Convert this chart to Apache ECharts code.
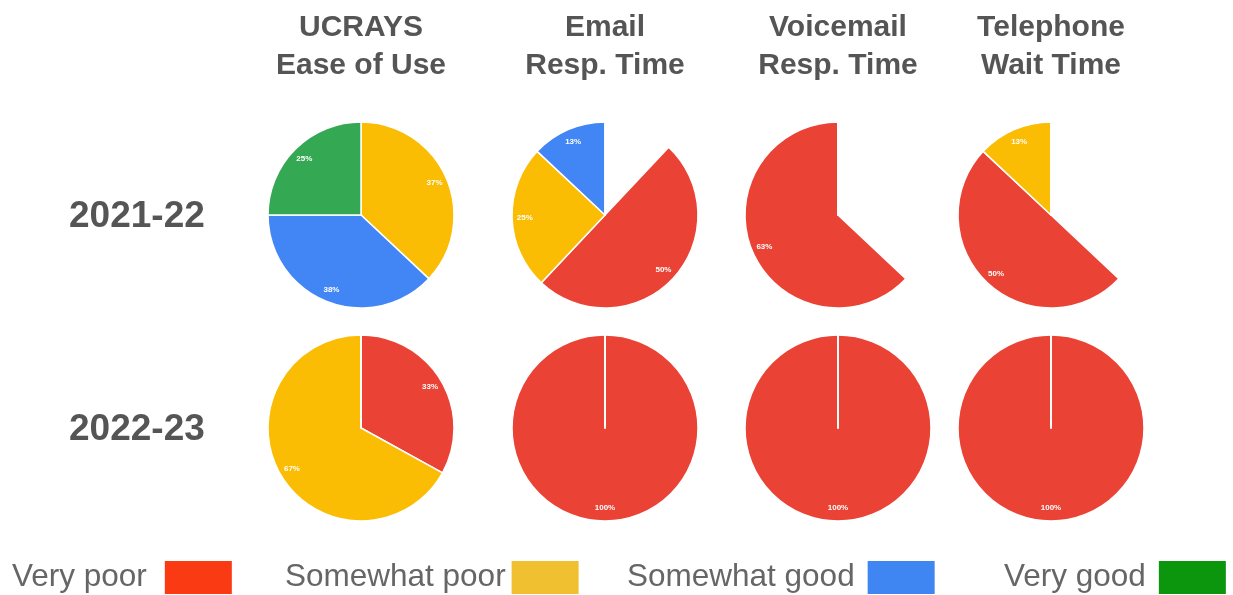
<!DOCTYPE html>
<html>
<head>
<meta charset="utf-8">
<script src="https://cdn.jsdelivr.net/npm/echarts@6/dist/echarts.min.js"></script>
<style>
  html, body { margin: 0; padding: 0; background: #ffffff; }
  #chart { width: 1233px; height: 595px; }
</style>
</head>
<body>
<div id="chart"></div>
<script>
// Column headings (one pie per measure) and row headings (survey year)
const measures = ['UCRAYS\nEase of Use', 'Email\nResp. Time', 'Voicemail\nResp. Time', 'Telephone\nWait Time'];
const years = ['2021-22', '2022-23'];
const ratings = ['Very poor', 'Somewhat poor', 'Somewhat good', 'Very good'];

// Share of responses (%) per rating, one entry per measure
const veryPoor2122     = [0, 50, 63, 50];
const somewhatPoor2122 = [37, 25, 0, 13];
const somewhatGood2122 = [38, 13, 0, 0];
const veryGood2122     = [25, 0, 0, 0];
const unrated2122      = [0, 12, 37, 37];

const veryPoor2223     = [33, 100, 100, 100];
const somewhatPoor2223 = [67, 0, 0, 0];
const somewhatGood2223 = [0, 0, 0, 0];
const veryGood2223     = [0, 0, 0, 0];
const unrated2223      = [0, 0, 0, 0];

const sliceColors  = ['#ea4335', '#fbbc04', '#4285f4', '#34a853'];
const legendColors = ['#fa3a12', '#f0c030', '#3f86f2', '#0b960e'];

const yearData = [
  { unrated: unrated2122, byRating: [veryPoor2122, somewhatPoor2122, somewhatGood2122, veryGood2122] },
  { unrated: unrated2223, byRating: [veryPoor2223, somewhatPoor2223, somewhatGood2223, veryGood2223] }
];

// Layout
const colX = [361, 605, 838, 1051];
const headX = [356, 600, 833, 1046];
const rowY = [215, 428];
const R = 93;

function sliceItems(y, m, withLabels) {
  const d = yearData[y];
  const items = [{
    name: 'Unrated',
    value: d.unrated[m],
    itemStyle: { color: withLabels ? 'rgba(0,0,0,0)' : '#ffffff' },
    label: { show: false }
  }];
  ratings.forEach((r, i) => {
    const v = d.byRating[i][m];
    items.push({
      name: r,
      value: v,
      itemStyle: { color: withLabels ? 'rgba(0,0,0,0)' : sliceColors[i] },
      label: { show: withLabels && v > 0 }
    });
  });
  return items;
}

const series = [];
years.forEach((yr, y) => {
  measures.forEach((ms, m) => {
    // the pie itself
    series.push({
      type: 'pie',
      center: [colX[m], rowY[y]],
      radius: [0, R],
      startAngle: 90,
      clockwise: true,
      silent: true,
      avoidLabelOverlap: false,
      label: { show: false },
      labelLine: { show: false },
      itemStyle: { borderColor: '#ffffff', borderWidth: 1.5 },
      emphasis: { disabled: true },
      data: sliceItems(y, m, false)
    });
    // percentage labels, placed in an outer ring of the same pie
    series.push({
      type: 'pie',
      center: [colX[m], rowY[y]],
      radius: [R * 0.66, R],
      startAngle: 90,
      clockwise: true,
      silent: true,
      avoidLabelOverlap: false,
      label: {
        position: 'inside',
        formatter: '{c}%',
        color: '#ffffff',
        fontSize: 8,
        fontWeight: 'bold',
        fontFamily: 'Liberation Sans'
      },
      labelLine: { show: false },
      itemStyle: { borderWidth: 0 },
      emphasis: { disabled: true },
      data: sliceItems(y, m, true)
    });
  });
});

const titles = [];
measures.forEach((ms, m) => {
  titles.push({
    text: ms,
    left: headX[m],
    top: 4,
    textAlign: 'center',
    textStyle: {
      fontFamily: 'Liberation Sans',
      fontWeight: 'bold',
      fontSize: 30,
      lineHeight: 38,
      color: '#555555'
    }
  });
});
years.forEach((yr, y) => {
  titles.push({
    text: yr,
    left: 64,
    top: rowY[y] - 22,
    textStyle: {
      fontFamily: 'Liberation Sans',
      fontWeight: 'bold',
      fontSize: 37,
      color: '#555555'
    }
  });
});

// Legend: label text followed by its swatch
const legendLeft = [7, 280, 622, 999];
const legendTextPad = [12, 0, 7, 7];
const legends = ratings.map((r, i) => ({
  left: legendLeft[i],
  top: 554,
  orient: 'horizontal',
  align: 'right',
  selectedMode: false,
  icon: 'rect',
  itemWidth: 69,
  itemHeight: 35,
  textStyle: {
    fontFamily: 'Liberation Sans',
    fontSize: 31.5,
    color: '#666666',
    padding: [0, legendTextPad[i], 0, 0]
  },
  data: [{ name: r, itemStyle: { color: legendColors[i] } }]
}));

const chart = echarts.init(document.getElementById('chart'), null, { renderer: 'canvas' });
chart.setOption({
  backgroundColor: '#ffffff',
  animation: false,
  title: titles,
  legend: legends,
  series: series
});
</script>
</body>
</html>
